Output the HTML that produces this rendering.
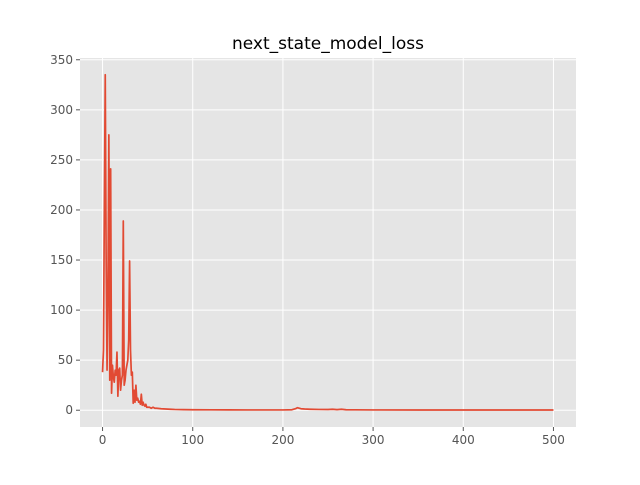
<!DOCTYPE html>
<html><head><meta charset="utf-8"><style>
body{margin:0;background:#fff;font-family:"Liberation Sans","DejaVu Sans",sans-serif;}
svg text{font-family:"DejaVu Sans","Liberation Sans",sans-serif;}
</style></head><body>
<svg id="c" width="640" height="480" xmlns="http://www.w3.org/2000/svg">
<rect x="0" y="0" width="640" height="480" fill="#fff"/>
<rect x="80" y="58" width="496" height="369" fill="#e5e5e5"/>
<g id="grid"></g><g id="ticks"></g><g id="series"></g>
<text x="328" y="49" font-size="17" text-anchor="middle" fill="#000">next_state_model_loss</text>
</svg>
<script>
const xTicks=[0,100,200,300,400,500];
const yTicks=[0,50,100,150,200,250,300,350];
const stepsX=[0,1,2,3,4,5,6,7,8,9,10,11,12,13,14,15,16,17,18,19,20,21,22,23,24,25,26,27,28,29,30,31,32,33,34,35,36,37,38,39,40,41,42,43,44,45,46,47,48,49,50,52,54,56,58,60,65,70,75,80,90,100,120,140,160,180,200,210,214,216,218,220,224,230,240,250,255,260,265,270,280,300,350,400,450,500];
const lossY=[38,60,200,335,150,40,120,275,30,241,17,45,33,28,40,35,58,14,40,42,20,30,35,189,25,30,40,45,50,70,149,60,35,38,7,20,8,25,10,12,8,9,6,16,5,8,5,4,6,3,3,3,2,3,2,2,1.5,1.2,1,0.8,0.6,0.5,0.4,0.35,0.3,0.3,0.3,0.5,1.5,2.5,2,1.5,1.2,1,0.8,0.7,1,0.6,1,0.5,0.4,0.3,0.25,0.2,0.2,0.2];
const NS="http://www.w3.org/2000/svg";
const X0=80,X1=576,Y0=427,Y1=58,xmin=-25,xmax=525,ymin=-16.75,ymax=351.75;
function sx(v){return X0+(v-xmin)/(xmax-xmin)*(X1-X0);}
function sy(v){return Y0-(v-ymin)/(ymax-ymin)*(Y0-Y1);}
const grid=document.getElementById('grid'),ticks=document.getElementById('ticks'),series=document.getElementById('series');
function mk(t,a,p){const e=document.createElementNS(NS,t);for(const k in a)e.setAttribute(k,a[k]);p.appendChild(e);return e;}
xTicks.forEach(v=>{
 const l=mk('line',{x1:sx(v),x2:sx(v),y1:Y1,y2:Y0,stroke:'#fff','stroke-width':1},grid);
 
 
 const tk=mk('line',{x1:sx(v),x2:sx(v),y1:Y0,y2:Y0+4,stroke:'#555'},ticks);
 
 
 const t=mk('text',{x:sx(v),y:Y0+17,'font-size':12,'text-anchor':'middle',fill:'#555'},ticks);
 t.textContent=v;
 
 
});
yTicks.forEach(v=>{
 const l=mk('line',{x1:X0,x2:X1,y1:sy(v),y2:sy(v),stroke:'#fff','stroke-width':1},grid);
 
 
 const tk=mk('line',{x1:X0-4,x2:X0,y1:sy(v),y2:sy(v),stroke:'#555'},ticks);
 
 
 const t=mk('text',{x:X0-7,y:sy(v)+4,'font-size':12,'text-anchor':'end',fill:'#555'},ticks);
 t.textContent=v;
 
 
});
const pts=stepsX.map((x,i)=>sx(x).toFixed(2)+','+sy(lossY[i]).toFixed(2)).join(' ');
const pl=mk('polyline',{points:pts,fill:'none',stroke:'#e24a33','stroke-width':1.7,'stroke-linejoin':'round'},series);


</script>
</body></html>
